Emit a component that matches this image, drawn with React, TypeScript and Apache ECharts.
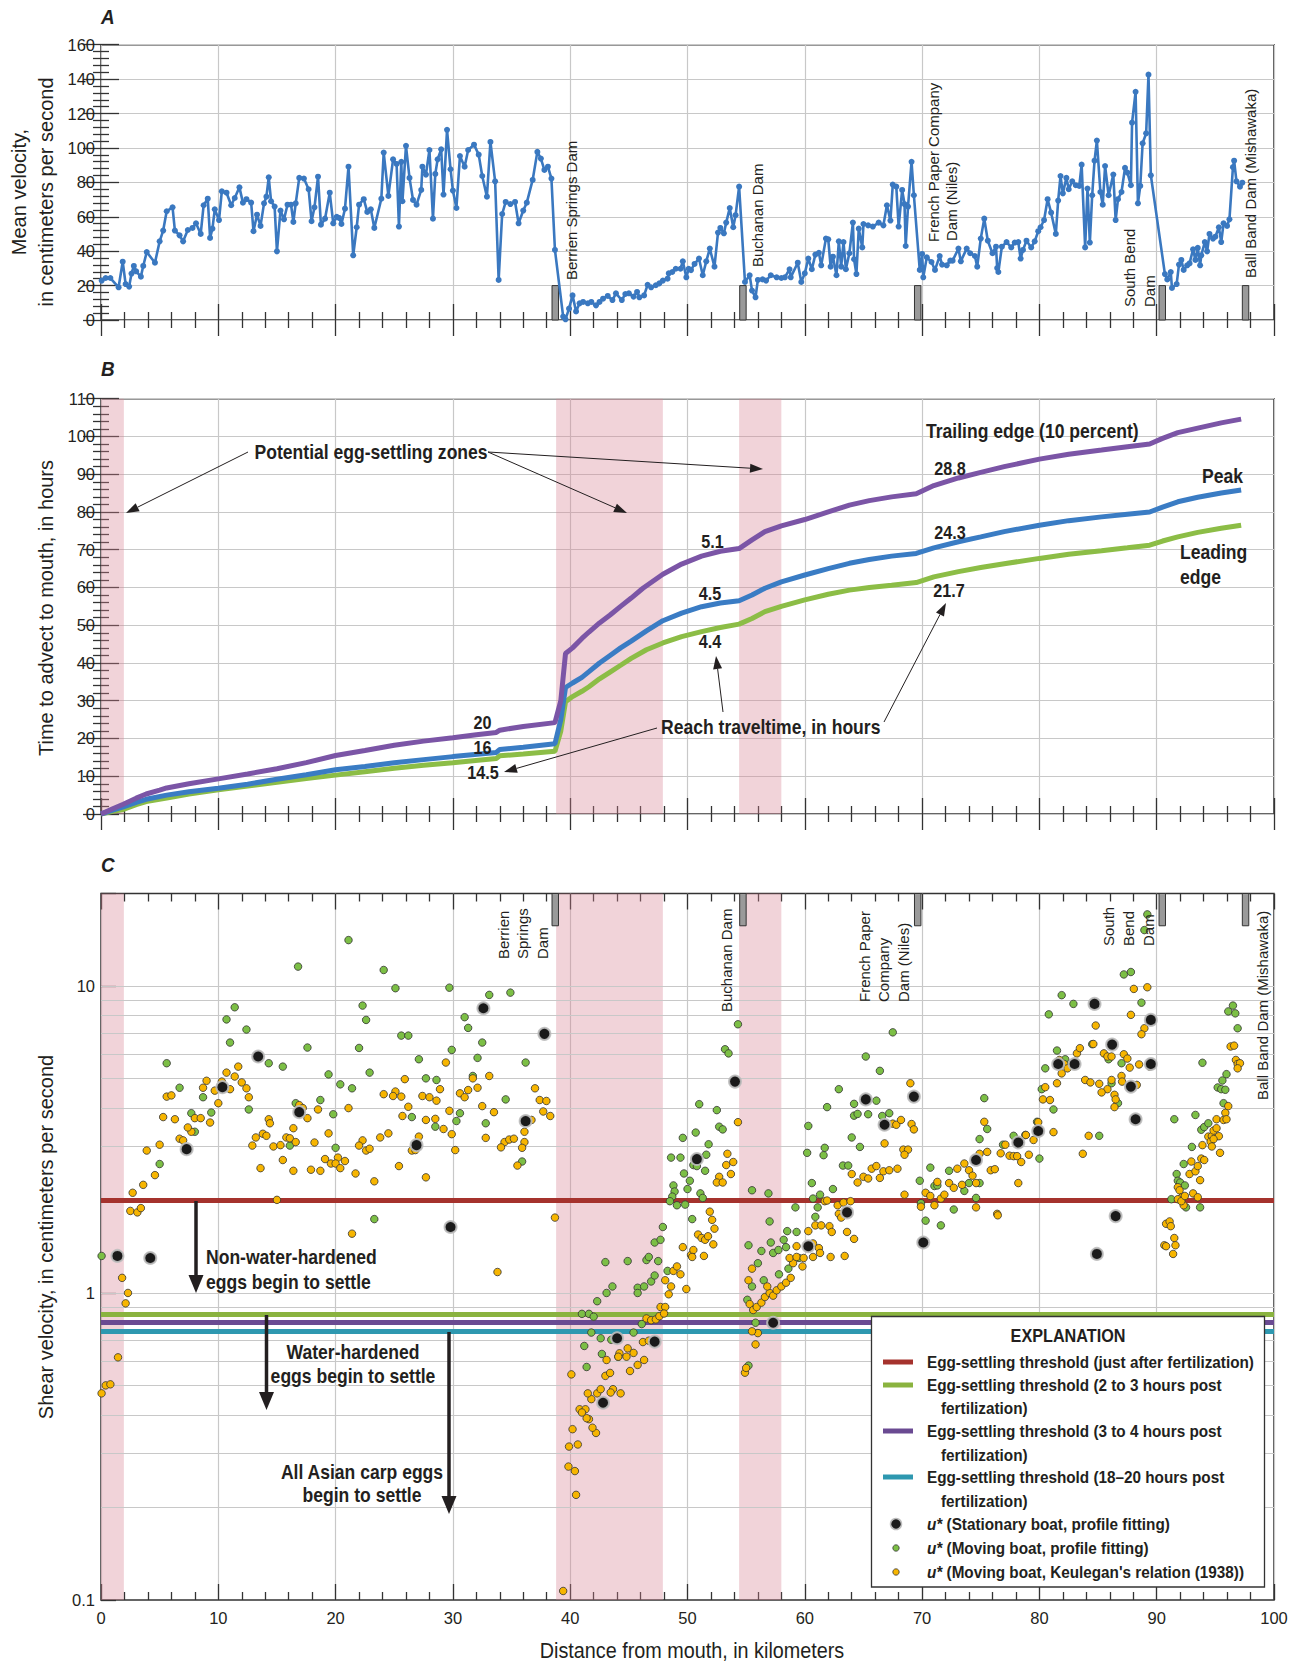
import React, { useEffect, useRef } from "react";
import * as echarts from "echarts";

// ---------------- DATA ----------------
// Panel A: mean velocity (km from mouth, cm/s)
const meanVelocity: [number, number][] = [
  [0.06,22.9],[0.4,24.4],[0.8,24.4],[1.5,19],[1.85,33.9],[2.1,20.9],[2.4,19.4],[2.6,27],[2.8,31.4],[3.0,28.3],[3.4,25.2],[3.6,31.4],[3.9,39.5],[4.6,33.3],[5.0,45.7],[5.3,52],[5.6,63.2],[6.1,65.5],[6.3,52],[6.7,49.2],[7.0,45.7],[7.4,52.3],[7.8,53.5],[8.1,56.2],[8.5,50],[8.75,66.7],[9.1,70.5],[9.3,47.7],[9.5,53.1],[9.7,64.3],[10.06,58.1],[10.3,74.8],[10.7,74],[11.1,66.7],[11.4,70.9],[11.8,77.1],[12.1,68.2],[12.4,70.2],[12.8,68.2],[13.0,51.6],[13.3,61.2],[13.6,54.7],[13.9,67.8],[14.1,71.7],[14.3,82.9],[14.5,69],[14.8,65.9],[15.0,39.9],[15.3,63.6],[15.6,58.5],[15.9,67],[16.2,67],[16.4,57],[16.6,67.8],[16.9,82.6],[17.3,82.2],[17.7,76],[17.95,57.4],[18.2,65.5],[18.5,83.3],[18.75,55.4],[19.1,58.9],[19.5,74],[19.8,56.2],[20.1,60],[20.3,59.3],[20.5,55.8],[20.8,64.7],[21.1,89.1],[21.5,37.6],[21.8,53.9],[22.0,67],[22.4,70.2],[22.7,62.8],[23.0,64.3],[23.3,53.5],[23.9,70.5],[24.1,97.3],[24.5,72.1],[24.9,93.4],
  [25.2,90.7],[25.4,54.3],[25.6,91.9],[25.7,69],[26.0,101.2],[26.3,82.6],[26.6,69.8],[26.9,67],[27.3,75.6],[27.4,89.1],[27.7,84.5],[28.0,98.8],[28.3,58.9],[28.5,84.9],[28.7,93.4],[29.0,99.2],[29.2,72.9],[29.5,110.5],[29.8,87.6],[30.0,75.2],[30.3,65.1],[30.6,95.3],[31.0,89.1],[31.3,98.8],[31.8,101.9],[32.2,96.1],[32.5,83.7],[32.9,71.7],[33.2,103.5],[33.6,80.6],[33.9,23.3],[34.2,61.6],[34.5,68.6],[34.9,67.4],[35.3,68.6],[35.6,56.2],[36.0,63.6],[36.3,68.2],[36.8,81.4],[37.2,97.7],[37.5,93.8],[37.8,87.2],[38.1,89.1],[38.4,82.2],[38.7,40.7],[39.4,2],[39.6,0.4],[39.9,6.6],[40.2,14.3],[40.5,5],[40.8,9.7],[41.1,10.5],[41.5,9.7],[41.8,10.5],[42.2,8.5],[42.5,10.5],[42.8,12.4],[43.2,14],[43.6,11.6],[43.9,15.5],[44.4,11.6],[44.7,15.1],[45.0,15.5],[45.4,13.6],[45.7,16.3],[45.9,13.2],[46.3,14.3],[46.6,20.5],[46.9,19],[47.3,20.2],[47.6,21.3],[47.9,22.9],[48.3,24],[48.4,27.1],[48.7,27.9],[49.0,29.8],[49.4,29.8],[49.6,34.1],[49.9,24.8],
  [50.1,29.8],[50.3,29],[50.6,32.6],[50.98,35.7],[51.3,26],[51.6,34.1],[51.9,41.5],[52.3,31],[52.6,50.8],[52.8,53.5],[53.1,50.4],[53.3,56.6],[53.6,65.1],[53.9,53.9],[54.1,60.9],[54.4,77.5],[54.9,22.1],[55.3,26],[55.5,17.1],[55.8,13.2],[56.0,23.3],[56.4,23.6],[56.7,22.9],[57.1,26],[57.6,24.8],[58.0,24.4],[58.3,24.8],[58.7,29.5],[58.8,24.8],[59.4,33.3],[59.7,22.1],[60.0,27.1],[60.3,35.7],[60.6,29.5],[60.9,38],[61.2,39.1],[61.4,31.8],[61.8,47.3],[62.0,46.9],[62.2,31],[62.4,36.8],[62.7,26],[62.9,45.7],[63.1,31],[63.3,45.3],[63.5,29.5],[63.8,38.8],[64.1,56.6],[64.2,35.3],[64.4,26.7],[64.6,53.1],[64.9,42.2],[65.0,55.8],[65.4,55],[65.8,54.3],[66.3,56.6],[66.7,55],[67.0,66.7],[67.3,57.8],[67.5,78.7],[67.8,77.5],[68.0,54.3],[68.3,75.6],[68.5,67.4],[68.6,43],[68.8,65.9],[69.1,91.9],[69.3,72.5],[69.8,29.1],[70.0,38.4],[70.1,24.8],[70.4,36.4],[70.8,33.7],[71.1,29.1],[71.5,37.2],[71.7,32.2],[72.1,31.8],[72.4,34.5],[72.6,34.5],[73.1,41.5],[73.3,34.1],[73.8,41.5],[74.1,38.8],[74.5,37.2],[74.7,31],
  [75.0,47.3],[75.3,58.9],[75.6,46.1],[76.0,38.8],[76.3,42.6],[76.4,30.2],[76.5,27.9],[76.8,42.6],[77.2,45.3],[77.6,42.2],[77.9,45],[78.2,45.3],[78.4,35.7],[78.6,40.7],[78.9,46.1],[79.3,42.2],[79.6,45.7],[79.9,51.6],[80.1,53.9],[80.4,58.1],[80.7,70.2],[81.0,62.4],[81.4,50],[81.6,69.4],[81.8,83.7],[82.0,73.6],[82.3,82.6],[82.5,76],[82.8,80.6],[83.1,78.3],[83.4,77.9],[83.6,90.3],[83.9,42.2],[84.1,76.4],[84.3,45],[84.5,72.5],[84.7,92.6],[84.9,104.3],[85.2,74.4],[85.4,67],[85.6,89.5],[85.9,72.5],[86.3,84.5],[86.5,58.1],[86.7,70.2],[87.0,74.4],[87.3,88.4],[87.5,85.7],[87.8,78.3],[87.9,114.7],[88.2,132.6],[88.4,67.8],[88.6,77.9],[88.8,102.7],[89.1,108.5],[89.3,142.6],[89.5,84.1],[90.7,26.7],[90.9,23.6],[91.2,27.9],[91.3,18.6],[91.7,20.9],[91.9,32.2],[92.1,34.9],[92.3,29.1],[92.6,31.8],[92.8,32.9],[93.1,41.1],[93.3,34.9],[93.5,41.9],[93.7,31.8],[93.8,37.6],[94.1,45.3],[94.3,39.9],[94.5,50],[94.8,47.3],[95.0,48.4],[95.3,53.9],[95.5,45.3],[95.7,56.2],[96.0,54.7],[96.2,58.5],[96.5,88.8],[96.6,92.6],[96.8,80.6],[97.1,77.5],[97.3,79.8]
];

// Panel B: time to advect to mouth (km, hours)
const trailingEdge: [number, number][] = [
  [0,0],[1,1.4],[1.9,2.6],[3,4.2],[3.85,5.3],[5,6.3],[5.6,6.9],[7.5,8],[10,9.3],[12.5,10.6],[15,12],[17.5,13.6],[20,15.5],[22.5,16.8],[25,18.2],[27.5,19.3],[30,20.2],[32,21],[33.7,21.6],[34,22.2],[36,23.2],[38.7,24.2],[39.2,30],[39.6,42.5],[40.2,44],[41,46.5],[41.6,48.2],[42.5,50.6],[43.4,52.7],[44.3,55],[45.2,57.2],[46.2,59.8],[47.9,63.5],[49.5,66.2],[51.2,68.3],[52.8,69.6],[54.4,70.3],[55.5,72.6],[56.6,74.8],[58,76.3],[60,78],[62,80],[63.8,81.8],[65.5,83],[67.4,84],[69.5,84.8],[71,87],[73.1,89],[75,90.5],[77,92],[80,94],[82.5,95.3],[85.3,96.4],[87.5,97.3],[89.4,98],[90.5,99.5],[91.8,101],[93.5,102.2],[95.5,103.6],[97.2,104.6]
];
const peakTime: [number, number][] = [
  [0,0],[1,1],[1.9,1.9],[3,3.1],[3.85,3.9],[5.6,5],[7.5,5.9],[10,6.8],[12.5,7.9],[15,9.2],[17.5,10.4],[20,11.7],[22.5,12.6],[25,13.6],[27.5,14.4],[30,15.2],[33.7,16.3],[34,17.1],[36,17.7],[38.7,18.6],[39.2,25],[39.6,33.5],[40.2,34.7],[41,36.2],[41.6,37.7],[42.5,40],[43.4,42],[44.3,44],[45.2,45.8],[46.5,48.5],[47.9,51.2],[49.5,53.2],[51.2,54.9],[52.8,55.9],[54.4,56.5],[55.5,58],[56.6,59.8],[58,61.5],[60,63.3],[62,65],[63.8,66.4],[65.5,67.4],[67.4,68.3],[69.5,69],[71,70.5],[73.1,72.1],[75,73.4],[77,74.8],[80,76.5],[82.5,77.7],[85.3,78.7],[87.5,79.4],[89.4,80],[90.5,81.3],[91.8,82.7],[93.5,83.9],[95.5,85],[97.2,85.8]
];
const leadingEdge: [number, number][] = [
  [0,0],[1,0.7],[1.9,1.2],[3,2.5],[3.85,3.3],[5.6,4.2],[7.5,5.3],[10,6.4],[12.5,7.4],[15,8.4],[17.5,9.4],[20,10.3],[22.5,11.2],[25,12.1],[27.5,12.9],[30,13.6],[33.7,14.7],[34,15.4],[36,15.9],[38.7,16.6],[39.2,22],[39.6,29.7],[40.2,31.1],[41,32.5],[41.6,33.7],[42.5,35.8],[43.4,37.6],[44.3,39.4],[45.2,41.2],[46.5,43.5],[47.9,45.3],[49.5,47],[51.2,48.3],[52.8,49.4],[54.4,50.3],[55.5,51.8],[56.6,53.6],[58,55],[60,56.7],[62,58.2],[63.8,59.3],[65.5,60],[67.4,60.6],[69.5,61.3],[71,62.8],[73.1,64.2],[75,65.3],[77,66.3],[80,67.7],[82.5,68.8],[85.3,69.7],[87.5,70.5],[89.4,71.2],[90.5,72.3],[91.8,73.4],[93.5,74.6],[95.5,75.7],[97.2,76.5]
];

// Potential egg-settling zones (km ranges)
const settlingZones: [number, number][] = [[0, 1.95], [38.8, 47.9], [54.4, 58.0]];
// Dams (km, start of bar)
const damKm = [38.45, 54.45, 69.35, 90.2, 97.3];
const damWidthKm = 0.55;

// Panel C: thresholds (cm/s)
const thresholdValues = [2.01, 0.852, 0.803, 0.752];
const logGridValues = [0.2, 0.3, 0.4, 0.5, 0.6, 0.7, 0.8, 0.9, 1, 2, 3, 4, 5, 6, 7, 8, 9, 10];

// u* stationary boat
const stationaryBoat: [number, number][] = [
  [1.4,1.32],[4.2,1.30],[7.3,2.94],[10.35,4.68],[13.4,5.89],[16.9,3.88],[26.9,3.03],[29.8,1.64],[32.6,8.46],[36.2,3.63],[37.8,6.98],[42.8,0.439],[44.0,0.712],[47.2,0.694],[50.8,2.73],[54.05,4.88],[57.3,0.8],[60.3,1.42],[63.6,1.83],[65.2,4.27],[66.8,3.53],[69.3,4.36],[70.1,1.46],[74.6,2.71],[78.2,3.09],[79.9,3.37],[81.6,5.57],[83.0,5.57],[84.7,8.74],[84.9,1.34],[86.2,6.44],[86.5,1.78],[87.8,4.70],[88.2,3.68],[89.5,7.75],[89.5,5.57]
];
// u* moving boat, profile fitting
const movingProfile: [number, number][] = [
  [21.1,14.1],[16.8,11.56],[24.1,11.27],[25.1,9.83],[29.7,9.87],[33.1,9.35],[34.9,9.51],[11.4,8.52],[22.3,8.63],[10.7,7.78],[22.6,7.75],[31.0,7.91],[31.3,7.30],[12.4,7.21],[25.6,6.89],[26.2,6.89],[11.0,6.54],[32.5,6.54],[17.6,6.30],[22.0,6.28],[29.9,6.19],[27.1,5.77],[32.1,5.83],[5.6,5.6],[14.3,5.6],[15.5,5.46],[36.2,5.63],[22.9,5.22],[19.4,5.15],[31.7,5.09],[27.7,5.0],[28.6,4.94],[20.4,4.78],[21.4,4.64],[6.7,4.66],[8.7,4.34],[34.5,4.27],[16.6,4.15],[18.7,4.25],[12.6,3.96],[7.7,3.85],[9.4,3.87],[19.8,3.82],[30.6,3.85],[26.5,3.74],[30.3,3.63],[32.8,3.57],[28.5,3.48],[8.0,3.35],[16.1,3.02],[20.0,2.97],[35.9,2.68],[5.0,2.63],[23.3,1.74],[0.05,1.32],
  [43.0,1.26],[44.9,1.27],[46.5,1.28],[46.7,1.31],[47.5,1.27],[42.7,0.633],[41.4,0.574],[41.2,0.672],[42.6,0.712],[41.8,0.743],[43.5,0.704],[44.1,0.620],[45.4,0.743],[41.0,0.855],[41.6,0.855],[42.0,0.837],[46.1,0.792],[42.3,0.94],[43.1,1.0],[43.6,1.05],[45.75,1.04],[45.75,1.0],[46.3,1.05],[46.9,1.09],[47.2,1.14],[48.3,1.18],
  [54.3,7.50],[53.2,6.22],[53.5,6.03],[51.0,4.12],[52.5,3.94],[52.7,3.48],[53.0,3.41],[49.6,3.20],[50.7,3.33],[51.8,3.05],[51.6,2.82],[48.6,2.76],[49.4,2.76],[50.5,2.61],[50.8,2.59],[51.5,2.50],[49.7,2.45],[50.2,2.32],[48.8,2.24],[48.9,2.14],[50.0,2.18],[51.1,2.11],[51.3,2.04],[48.7,2.06],[48.5,1.99],[49.1,1.93],[49.8,1.94],[50.4,1.74],[47.9,1.64],[47.2,1.46],[47.7,1.49],[55.5,2.16],[56.9,2.11],[57.0,1.71],[55.2,1.43],[56.3,1.37],[57.1,1.46],[57.3,1.35],[57.75,1.38],[58.2,1.49],[58.4,1.41],[58.5,1.59],[59.3,1.58],[59.2,1.90],[60.2,2.86],[60.3,3.50],[60.6,2.28],[60.7,2.03],[60.9,1.77],[61.1,1.90],[61.3,2.09],[61.6,2.81],[61.7,2.97],[61.9,4.03],[62.4,2.18],[62.9,4.61],[63.1,1.80],[63.25,2.60],[63.7,2.60],[64.0,3.21],[64.2,3.78],[64.5,3.83],[64.7,2.99],[65.2,5.89],[64.2,4.13],[65.4,3.82],[66.1,4.23],[66.4,5.29],[67.5,7.06],[67.2,3.85],[66.6,3.77],[69.9,1.96],[69.8,2.32],[70.3,1.72],[70.7,2.56],[71.05,2.23],[71.3,2.24],[71.6,1.66],[72.3,2.50],[72.7,1.87],[73.6,2.15],[74.0,2.28],[74.9,2.28],[74.6,2.04],[74.9,3.17],[75.55,3.42],[75.3,4.31],[76.9,3.04],[77.8,3.25],[78.8,3.27],[79.8,3.61],[80.0,2.74],[80.2,4.61],[80.5,5.39],[81.2,3.96],[80.8,8.08],[81.9,9.33],[82.9,8.74],[81.5,6.16],[82.2,5.77],[82.6,5.57],[84.5,6.46],[85.9,5.77],[87.0,5.6],[86.15,4.82],[86.7,4.15],[85.1,3.25],[87.2,10.9],[87.8,11.1],[88.7,8.82],[88.95,15.2],[89.2,17.1],[91.5,3.68],[91.7,2.44],[91.8,2.32],[92.0,2.29],[92.3,2.63],[92.4,2.24],[91.25,2.02],[92.5,1.90],[93.7,1.90],[93.0,2.99],[93.3,3.80],[93.9,5.62],[93.8,3.40],[94.05,3.47],[94.4,3.57],[95.2,4.67],[95.5,4.61],[95.85,4.59],[95.6,4.92],[95.95,5.16],[95.7,4.15],[96.9,7.28],[96.1,8.26],[96.5,8.63],[96.7,8.14],
  [55.1,0.95],[55.2,0.58],[56.5,1.1],[57.8,1.15],[55.5,1.05],[56.0,1.25],[59.5,1.3],[58.6,1.2],[55.8,0.8]
];
// u* moving boat, Keulegan's relation
const keulegan: [number, number][] = [
  [29.4,5.63],[11.7,5.46],[10.7,5.22],[31.7,5.0],[33.1,5.09],[25.9,4.97],[9.0,4.91],[12.0,4.85],[10.3,4.88],[11.4,5.07],[8.7,4.66],[11.0,4.61],[12.4,4.64],[28.9,4.61],[32.1,4.66],[37.0,4.64],[31.3,4.58],[9.7,4.56],[25.1,4.53],[24.1,4.44],[24.9,4.38],[25.6,4.36],[5.6,4.36],[6.0,4.4],[27.4,4.38],[28.0,4.34],[30.6,4.47],[31.0,4.34],[12.6,4.34],[37.4,4.25],[37.97,4.22],[28.6,4.23],[10.0,4.15],[16.9,4.09],[17.2,4.0],[32.5,4.06],[26.2,4.04],[21.1,4.0],[18.5,3.96],[29.7,3.92],[37.7,3.90],[33.5,3.88],[5.3,3.74],[8.0,3.71],[8.5,3.71],[17.6,3.71],[25.7,3.77],[38.3,3.77],[6.3,3.68],[14.3,3.68],[14.4,3.57],[36.7,3.66],[27.7,3.66],[28.5,3.69],[9.3,3.59],[29.2,3.42],[7.7,3.35],[7.4,3.46],[36.1,3.35],[29.9,3.29],[24.5,3.31],[23.8,3.21],[27.1,3.23],[32.8,3.20],[6.7,3.18],[7.0,3.14],[13.2,3.21],[13.8,3.30],[14.1,3.25],[15.8,3.21],[16.1,3.19],[16.4,3.44],[16.6,3.10],[19.4,3.31],[18.2,3.09],[22.3,3.14],[34.4,3.10],[34.8,3.16],[35.2,3.18],[36.1,3.10],[5.0,3.04],[12.9,3.02],[14.7,3.0],[15.3,3.03],[22.0,3.02],[34.1,2.98],[35.9,2.97],[3.9,2.91],[22.6,2.91],[22.9,2.95],[26.5,2.91],[26.8,2.92],[30.2,2.92],[19.1,2.73],[20.2,2.76],[20.8,2.69],[15.5,2.71],[19.6,2.64],[20.0,2.64],[20.4,2.55],[13.6,2.55],[16.4,2.50],[17.9,2.52],[18.7,2.50],[35.5,2.60],[25.4,2.59],[21.7,2.45],[4.6,2.42],[27.7,2.38],[23.3,2.31],[3.6,2.25],[2.7,2.12],[15.0,2.01],[2.5,1.85],[3.1,1.83],[3.4,1.89],[38.7,1.76],[21.4,1.56],
  [1.8,1.12],[2.3,1.0],[2.1,0.925],[1.45,0.617],[0.05,0.471],[0.4,0.50],[0.8,0.504],[33.8,1.17],[39.4,0.107],[39.9,0.316],[39.85,0.272],[40.4,0.263],[40.5,0.22],[40.65,0.321],[40.2,0.360],[40.1,0.543],[42.2,0.350],[41.9,0.364],[41.6,0.388],[41.4,0.391],[40.8,0.418],[41.3,0.418],[41.0,0.408],[41.8,0.451],[41.5,0.471],[42.3,0.471],[42.6,0.486],[43.65,0.486],[43.45,0.474],[44.3,0.471],[43.0,0.537],[43.4,0.549],[45.1,0.557],[43.1,0.605],[44.2,0.636],[44.8,0.620],[45.4,0.638],[44.9,0.660],[44.1,0.620],[45.75,0.583],[46.3,0.605],[46.2,0.692],[46.7,0.699],[46.5,0.826],[46.9,0.815],[47.3,0.82],[47.6,0.84],[47.7,0.9],[48.1,0.9],[48.0,0.857],[48.1,1.10],[48.4,0.99],[48.6,1.05],[48.8,1.18],[49.1,1.22],[49.4,1.15],[49.9,1.03],[50.3,1.33],
  [54.3,3.60],[53.4,2.84],[53.3,2.61],[53.9,2.67],[53.7,2.44],[52.7,2.39],[52.5,2.29],[53.0,2.29],[51.9,1.84],[52.1,1.73],[52.3,1.62],[49.6,1.41],[50.5,1.38],[50.9,1.55],[51.2,1.51],[51.5,1.49],[51.75,1.53],[52.2,1.44],[51.4,1.32],[50.4,1.31],[60.3,1.59],[59.3,1.42],[60.9,1.66],[60.7,1.45],[61.2,1.40],[61.4,1.66],[61.7,1.99],[61.9,2.0],[62.1,1.65],[62.3,1.58],[62.8,1.93],[62.9,1.81],[63.1,1.76],[63.3,1.97],[63.9,1.99],[63.6,1.58],[64.2,1.50],[64.0,2.44],[64.5,2.29],[65.0,2.39],[65.4,2.36],[65.7,2.54],[66.1,2.59],[66.4,2.37],[66.7,2.49],[67.2,2.51],[67.9,2.54],[66.8,3.07],[67.5,3.56],[67.8,3.53],[68.2,3.66],[68.4,2.93],[68.8,2.93],[68.5,2.82],[69.1,3.55],[69.3,3.41],[69.0,4.82],[68.5,2.09],[69.9,1.91],[70.05,1.45],[70.3,2.12],[70.7,2.07],[71.05,1.93],[71.3,2.30],[71.6,2.03],[71.9,2.09],[72.3,2.28],[72.7,2.20],[73.0,2.54],[73.4,2.25],[73.6,2.64],[74.0,2.51],[74.3,2.41],[74.6,2.28],[74.6,1.90],[74.9,2.84],[75.3,3.61],[75.55,2.88],[75.85,2.51],[76.2,2.53],[76.4,1.81],[76.45,1.79],[76.7,2.85],[77.1,3.04],[77.45,2.80],[77.8,2.79],[78.1,2.79],[78.45,2.67],[78.85,3.27],[78.2,2.28],[79.1,2.82],[79.5,3.15],[79.9,3.60],[80.3,4.27],[80.5,4.68],[80.9,4.25],[81.2,3.34],[81.5,4.82],[81.7,5.74],[81.9,5.19],[82.1,5.57],[82.4,5.39],[82.9,5.62],[83.2,6.03],[83.45,6.27],[84.8,7.43],[84.6,6.47],[85.5,6.03],[85.8,5.89],[86.15,5.89],[87.2,5.99],[87.5,5.80],[87.7,5.42],[88.5,5.55],[89.4,5.46],[83.9,4.94],[84.35,4.85],[85.1,4.80],[85.8,4.61],[86.15,4.94],[87.0,5.09],[87.05,4.88],[85.3,4.50],[86.4,4.42],[86.5,4.27],[86.4,4.03],[88.3,4.76],[84.2,3.25],[83.7,2.84],[88.05,9.78],[89.2,9.9],[87.8,8.05],[88.95,7.28],[88.7,6.96],[90.8,1.68],[91.1,1.71],[91.2,1.65],[90.65,1.43],[90.8,1.42],[91.5,1.51],[91.6,1.43],[91.4,1.34],[91.8,2.21],[91.95,2.16],[92.15,2.05],[91.8,2.02],[92.3,1.93],[92.1,1.99],[92.4,2.07],[93.1,2.11],[93.5,2.05],[92.8,2.44],[92.95,2.68],[93.3,2.49],[93.5,2.59],[93.7,2.33],[93.8,2.74],[94.05,2.71],[93.9,3.03],[94.4,3.23],[94.7,3.24],[94.85,3.38],[95.1,3.44],[95.3,3.24],[94.6,3.11],[94.85,3.17],[94.7,3.0],[95.4,2.86],[95.1,3.68],[95.85,3.86],[96.1,4.06],[95.7,3.66],[95.95,3.68],[96.3,6.35],[96.6,6.39],[96.75,5.74],[96.9,5.57],[97.1,5.60],[96.9,5.39],
  [54.9,0.55],[55.0,0.57],[55.8,0.68],[56.0,0.74],[55.3,0.92],[55.6,0.88],[55.9,0.9],[56.3,0.93],[56.6,0.97],[57.0,1.0],[57.3,0.98],[57.6,1.02],[58.0,1.05],[58.4,1.08],[56.8,1.05],[55.2,1.1],[55.5,1.2],[58.8,1.12],[59.0,1.25],[59.8,1.22],[55.5,0.75],[58.7,1.3],[59.3,1.31],[59.9,1.3],[60.7,1.31],[61.3,1.35],[62.2,1.31],[63.4,1.32]
];

// ---------------- STYLE ----------------
const SANS = '"Liberation Sans",Arial,Helvetica,sans-serif';
const NARROW_SCALE = 0.9;
const INK = "#231f20";
const GRIDC = "#c8c8c8";
const PINK = "rgba(215,129,146,0.35)";
const TICK = { color: "#333", width: 1.3 };
const thresholdColors = ["#a5322d", "#8ab33f", "#6a4a92", "#2e98b0"];

const L = 101, W = 1173;
const grids = [
  { left: L, top: 44.7, width: W, height: 275.3 },
  { left: L, top: 398.7, width: W, height: 415.3 },
  { left: L, top: 893.5, width: W, height: 706.5 },
].map((g) => ({ ...g, show: true, borderColor: "#333", borderWidth: 1.6, backgroundColor: "transparent" }));

function xAx(gi: number, pos: "top" | "bottom", labels: boolean, split: boolean) {
  return {
    type: "value", gridIndex: gi, position: pos, min: 0, max: 100, interval: 10,
    axisLine: { show: false },
    axisTick: { show: true, inside: true, length: 16, lineStyle: TICK },
    minorTick: { show: true, splitNumber: 5, length: 8, lineStyle: TICK },
    axisLabel: { show: labels, fontFamily: SANS, fontSize: 16.5, color: INK, margin: 9 },
    splitLine: { show: split, lineStyle: { color: GRIDC, width: 1.2 } },
  };
}
function yAx(gi: number, pos: "left" | "right", max: number, interval: number, labels: boolean) {
  return {
    type: "value", gridIndex: gi, position: pos, min: 0, max, interval,
    axisLine: { show: false },
    axisTick: { show: true, inside: true, length: 18, lineStyle: TICK },
    minorTick: { show: true, splitNumber: 5, length: 8, lineStyle: TICK },
    axisLabel: { show: labels, fontFamily: SANS, fontSize: 16.5, color: INK, margin: 6 },
    splitLine: { show: labels, lineStyle: { color: GRIDC, width: 1.2 } },
  };
}

// ---------------- GRAPHIC HELPERS ----------------
type Opt = { size?: number; bold?: boolean; italic?: boolean; align?: string; rot?: number; narrow?: boolean };
function txt(x: number, y: number, text: string, o: Opt = {}) {
  const narrow = o.narrow !== false;
  return {
    type: "text", x, y, rotation: o.rot || 0, scaleX: narrow ? NARROW_SCALE : 1, z: 100, silent: true,
    style: {
      text, fill: INK, fontSize: o.size || 19.5, fontFamily: SANS,
      fontWeight: o.bold === false ? "normal" : "bold", fontStyle: o.italic ? "italic" : "normal",
      align: o.align || "left", verticalAlign: "middle",
    },
  };
}
function arrow(x1: number, y1: number, x2: number, y2: number, lw: number, hl: number, hw: number) {
  const dx = x2 - x1, dy = y2 - y1, len = Math.hypot(dx, dy);
  const ux = dx / len, uy = dy / len;
  const bx = x2 - ux * hl, by = y2 - uy * hl;
  const px = -uy, py = ux;
  return [
    { type: "line", z: 100, silent: true, shape: { x1, y1, x2: bx, y2: by }, style: { stroke: INK, lineWidth: lw } },
    { type: "polygon", z: 100, silent: true, shape: { points: [[x2, y2], [bx + (px * hw) / 2, by + (py * hw) / 2], [bx - (px * hw) / 2, by - (py * hw) / 2]] }, style: { fill: INK } },
  ];
}

function buildGraphic() {
  const R = Math.PI / 2;
  const dam = (x: number, y: number, t: string) => txt(x, y, t, { rot: R, bold: false, size: 15, narrow: false });
  const ytitle = (x: number, y: number, t: string) => txt(x, y, t, { rot: R, bold: false, size: 20, align: "center", narrow: false });
  const num = (x: number, y: number, t: string) => txt(x, y, t, { align: "center", size: 18 });
  const g: any[] = [
    txt(101, 17, "A", { italic: true, size: 21 }),
    txt(101, 369, "B", { italic: true, size: 21 }),
    txt(101, 865, "C", { italic: true, size: 21 }),
    ytitle(19, 192, "Mean velocity,"),
    ytitle(46, 192, "in centimeters per second"),
    ytitle(46, 608, "Time to advect to mouth, in hours"),
    ytitle(46, 1237, "Shear velocity, in centimeters per second"),
    txt(692, 1650, "Distance from mouth, in kilometers", { align: "center", bold: false, size: 22 }),
    // dam labels, panel A
    dam(571.5, 280, "Berrien Springs Dam"),
    dam(757, 267, "Buchanan Dam"),
    dam(933, 242, "French Paper Company"),
    dam(951, 241, "Dam (Niles)"),
    dam(1129.5, 307, "South Bend"),
    dam(1149.5, 307, "Dam"),
    dam(1250, 278, "Ball Band Dam (Mishawaka)"),
    // dam labels, panel C
    dam(503, 959, "Berrien"), dam(522, 959, "Springs"), dam(542, 959, "Dam"),
    dam(726.5, 1012, "Buchanan Dam"),
    dam(864, 1002, "French Paper"), dam(883.5, 1002, "Company"), dam(903, 1002, "Dam (Niles)"),
    dam(1108.5, 946, "South"), dam(1128, 946, "Bend"), dam(1148, 946, "Dam"),
    dam(1262, 1100, "Ball Band Dam (Mishawaka)"),
    // panel B annotations
    txt(254.6, 452, "Potential egg-settling zones"),
    txt(926, 431, "Trailing edge (10 percent)"),
    txt(1243, 476, "Peak", { align: "right" }),
    txt(1180, 552, "Leading"), txt(1180, 577, "edge"),
    num(950, 469, "28.8"), num(950, 533, "24.3"), num(949, 591, "21.7"),
    num(712.5, 542, "5.1"), num(710, 594, "4.5"), num(710, 642, "4.4"),
    num(482.5, 723, "20"), num(482.5, 748, "16"), num(483, 773, "14.5"),
    txt(661, 727, "Reach traveltime, in hours"),
    ...arrow(248, 452, 126, 513, 1, 13, 9),
    ...arrow(488, 452, 627, 513, 1, 13, 9),
    ...arrow(488, 452, 763, 469, 1, 13, 9),
    ...arrow(723, 712, 716, 656, 1, 13, 9),
    ...arrow(884, 722, 946, 603, 1, 13, 9),
    ...arrow(657, 728, 504, 772, 1, 13, 9),
    // panel C annotations
    txt(206, 1257, "Non-water-hardened"), txt(206, 1282, "eggs begin to settle"),
    txt(353, 1352, "Water-hardened", { align: "center" }), txt(353, 1376, "eggs begin to settle", { align: "center" }),
    txt(362, 1472, "All Asian carp eggs", { align: "center" }), txt(362, 1495, "begin to settle", { align: "center" }),
    ...arrow(196, 1201, 196, 1293, 3.5, 18, 15),
    ...arrow(266.5, 1315, 266.5, 1410, 3.5, 18, 15),
    ...arrow(449, 1332, 449, 1514, 3.5, 18, 15),
  ];
  // legend
  g.push({ type: "rect", z: 99, silent: true, shape: { x: 871.5, y: 1316.5, width: 393, height: 270.5 }, style: { fill: "#fff", stroke: "#333", lineWidth: 1.3 } });
  g.push(txt(1068, 1336, "EXPLANATION", { align: "center", size: 18 }));
  const rows = [1362, 1385, 1431, 1477];
  const labels = [
    "Egg-settling threshold (just after fertilization)",
    "Egg-settling threshold (2 to 3 hours post",
    "Egg-settling threshold (3 to 4 hours post",
    "Egg-settling threshold (18\u201320 hours post",
  ];
  rows.forEach((y, i) => {
    g.push({ type: "line", z: 100, silent: true, shape: { x1: 883, y1: y, x2: 913, y2: y }, style: { stroke: thresholdColors[i], lineWidth: 5 } });
    g.push(txt(927, y, labels[i], { size: 17 }));
  });
  [1408, 1455, 1501].forEach((y) => g.push(txt(941, y, "fertilization)", { size: 17 })));
  const rich = { i: { fontStyle: "italic", fontWeight: "bold", fontSize: 17, fontFamily: SANS, fill: INK } };
  const uRows: [number, string][] = [
    [1524, "{i|u*} (Stationary boat, profile fitting)"],
    [1548, "{i|u*} (Moving boat, profile fitting)"],
    [1572, "{i|u*} (Moving boat, Keulegan's relation (1938))"],
  ];
  uRows.forEach(([y, t]) => {
    const el: any = txt(927, y, t, { size: 17 });
    el.style.rich = rich;
    g.push(el);
  });
  g.push({ type: "circle", z: 100, silent: true, shape: { cx: 896, cy: 1524, r: 5.5 }, style: { fill: "#1a1a1a", stroke: "#bdbdbd", lineWidth: 1.5 } });
  g.push({ type: "circle", z: 100, silent: true, shape: { cx: 896, cy: 1548, r: 3.2 }, style: { fill: "#7cbf45", stroke: "#333", lineWidth: 0.8 } });
  g.push({ type: "circle", z: 100, silent: true, shape: { cx: 896, cy: 1572, r: 3.2 }, style: { fill: "#f7b500", stroke: "#333", lineWidth: 0.8 } });
  return g;
}

function buildOption() {
  const bands = settlingZones.map(([a, b]) => [{ xAxis: a }, { xAxis: b }]);
  const damStyle = { color: "#9a9a9a", borderColor: "#333", borderWidth: 1 };
  const logFmt = (v: number) => {
    if (Math.abs(v - 0.1) < 1e-6) return "0.1";
    if (Math.abs(v - 1) < 1e-6) return "1";
    if (Math.abs(v - 10) < 1e-6) return "10";
    return "";
  };
  return {
    animation: false,
    backgroundColor: "#fff",
    grid: grids,
    xAxis: [
      xAx(0, "bottom", false, true), xAx(1, "bottom", false, true), xAx(2, "bottom", true, true),
      xAx(0, "top", false, false), xAx(1, "top", false, false), xAx(2, "top", false, false),
    ],
    yAxis: [
      yAx(0, "left", 160, 20, true),
      yAx(1, "left", 110, 10, true),
      {
        type: "log", logBase: 10, gridIndex: 2, position: "left", min: 0.1, max: 20,
        axisLine: { show: false },
        axisTick: { show: true, inside: true, length: 15, lineStyle: TICK },
        axisLabel: { show: true, formatter: logFmt, fontFamily: SANS, fontSize: 16.5, color: INK, margin: 6 },
        splitLine: { show: false },
      },
      yAx(0, "right", 160, 20, false),
      yAx(1, "right", 110, 10, false),
    ],
    series: [
      // Panel A
      {
        type: "line", xAxisIndex: 0, yAxisIndex: 0, data: [], z: 2, silent: true,
        markArea: { silent: true, itemStyle: damStyle, data: damKm.map((d) => [{ xAxis: d, yAxis: 0 }, { xAxis: d + damWidthKm, yAxis: 20 }]) },
      },
      {
        type: "line", xAxisIndex: 0, yAxisIndex: 0, data: meanVelocity, z: 3,
        symbol: "circle", symbolSize: 6, showSymbol: true,
        lineStyle: { color: "#3a78c0", width: 2.6 }, itemStyle: { color: "#3a78c0" },
      },
      // Panel B
      {
        type: "line", xAxisIndex: 1, yAxisIndex: 1, data: [], z: 1, silent: true,
        markArea: { silent: true, itemStyle: { color: PINK }, data: bands },
      },
      { type: "line", xAxisIndex: 1, yAxisIndex: 1, data: leadingEdge, z: 3, showSymbol: false, symbol: "none", lineStyle: { color: "#8cbd46", width: 5 } },
      { type: "line", xAxisIndex: 1, yAxisIndex: 1, data: peakTime, z: 3, showSymbol: false, symbol: "none", lineStyle: { color: "#3a7cc4", width: 5 } },
      { type: "line", xAxisIndex: 1, yAxisIndex: 1, data: trailingEdge, z: 3, showSymbol: false, symbol: "none", lineStyle: { color: "#7b55a6", width: 5 } },
      // Panel C
      {
        type: "line", xAxisIndex: 2, yAxisIndex: 2, data: [], z: 1, silent: true,
        markLine: { silent: true, symbol: ["none", "none"], label: { show: false }, lineStyle: { color: GRIDC, width: 1.2, type: "solid" }, data: logGridValues.map((v) => ({ yAxis: v })) },
      },
      {
        type: "line", xAxisIndex: 2, yAxisIndex: 2, data: [], z: 2, silent: true,
        markArea: { silent: true, itemStyle: { color: PINK }, data: bands },
      },
      {
        type: "line", xAxisIndex: 2, yAxisIndex: 2, data: [], z: 3, silent: true,
        markArea: { silent: true, itemStyle: damStyle, data: damKm.map((d) => [{ xAxis: d, yAxis: 15.7 }, { xAxis: d + damWidthKm, yAxis: 20 }]) },
      },
      {
        type: "line", xAxisIndex: 2, yAxisIndex: 2, data: [], z: 4, silent: true,
        markLine: {
          silent: true, symbol: ["none", "none"], label: { show: false },
          data: thresholdValues.map((v, i) => ({ yAxis: v, lineStyle: { color: thresholdColors[i], width: 5, type: "solid" } })),
        },
      },
      {
        type: "scatter", xAxisIndex: 2, yAxisIndex: 2, data: movingProfile, z: 5, symbol: "circle", symbolSize: 7.5,
        itemStyle: { color: "#7cbf45", borderColor: "#333", borderWidth: 0.8, opacity: 1 },
      },
      {
        type: "scatter", xAxisIndex: 2, yAxisIndex: 2, data: keulegan, z: 6, symbol: "circle", symbolSize: 7.5,
        itemStyle: { color: "#f7b500", borderColor: "#333", borderWidth: 0.8, opacity: 1 },
      },
      {
        type: "scatter", xAxisIndex: 2, yAxisIndex: 2, data: stationaryBoat, z: 7, symbol: "circle", symbolSize: 12,
        itemStyle: { color: "#1a1a1a", borderColor: "rgba(190,190,190,0.9)", borderWidth: 2, opacity: 1 },
      },
    ],
    graphic: buildGraphic(),
  };
}

export default function App() {
  const ref = useRef<HTMLDivElement>(null);
  useEffect(() => {
    const chart = echarts.init(ref.current!, undefined, { renderer: "svg" });
    chart.setOption(buildOption() as any);
    return () => chart.dispose();
  }, []);
  return (
    <div
      ref={ref}
      style={{ position: "absolute", left: 0, top: 0, width: 1301, height: 1662, background: "#fff" }}
    />
  );
}
